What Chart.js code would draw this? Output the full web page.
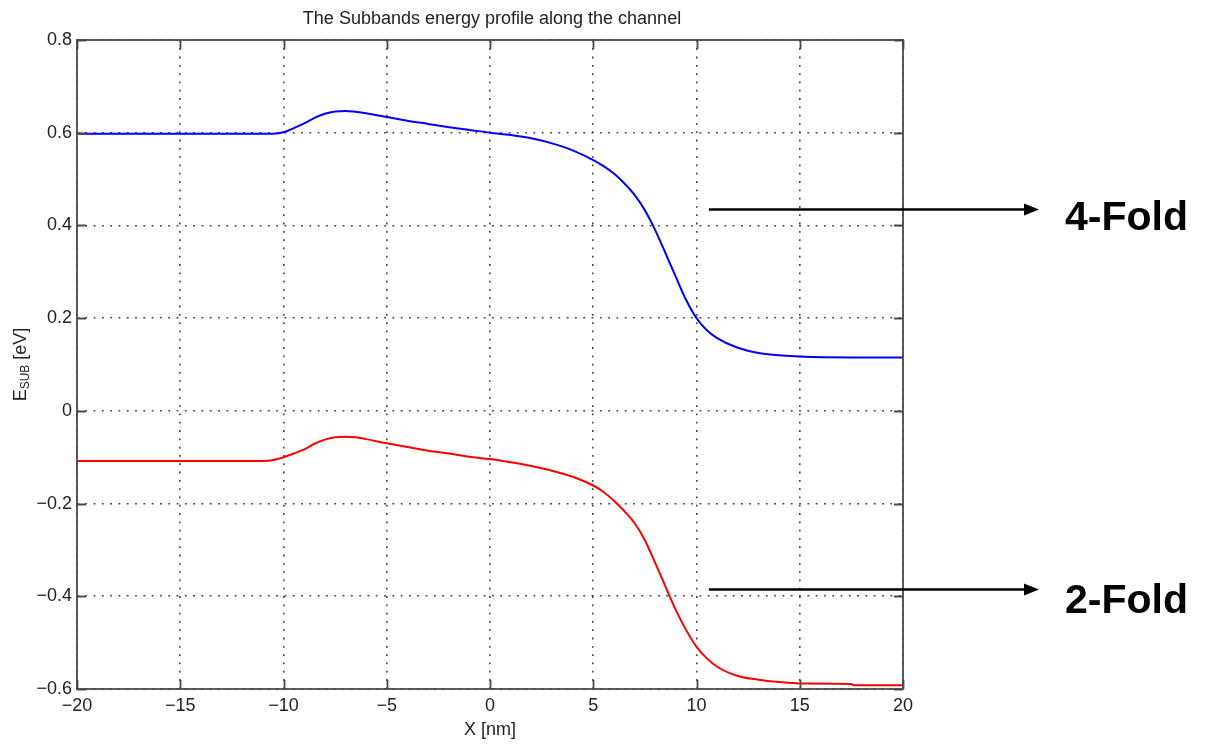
<!DOCTYPE html>
<html>
<head>
<meta charset="utf-8">
<script src="https://cdn.jsdelivr.net/npm/chart.js@4.4.1/dist/chart.umd.min.js"></script>
<style>
  html, body { margin: 0; padding: 0; background: #ffffff; }
  #wrap { width: 1207px; height: 747px; position: relative; }
</style>
</head>
<body>
<div id="wrap"><canvas id="c" width="1207" height="747"></canvas></div>
<script>
// Subband energy profile along the channel (position in nm, energy in eV)
const chartTitle = 'The Subbands energy profile along the channel';
const xAxisLabel = 'X [nm]';
const bandNames = ['4-Fold', '2-Fold'];

const xNm = [-20, -15, -11, -10.5, -10, -9.5, -9, -8.5, -8, -7.5, -7, -6.5, -6, -5, -4, -3, -2, -1,
             0, 1, 2, 3, 4, 5, 5.5, 6, 6.5, 7, 7.5, 8, 8.5, 9, 9.5, 10, 10.5, 11, 12, 13, 14, 15,
             17.5, 17.6, 20];

const fourFold = [0.598, 0.598, 0.598, 0.598, 0.601, 0.610, 0.620, 0.632, 0.641, 0.646, 0.647, 0.645,
                  0.642, 0.634, 0.626, 0.619, 0.612, 0.606, 0.600, 0.595, 0.588, 0.577, 0.562, 0.541,
                  0.528, 0.512, 0.491, 0.466, 0.433, 0.390, 0.340, 0.289, 0.239, 0.200, 0.174, 0.157,
                  0.136, 0.125, 0.120, 0.117, 0.115, 0.115, 0.115];

const twoFold = [-0.108, -0.108, -0.108, -0.106, -0.100, -0.092, -0.083, -0.071, -0.062, -0.057, -0.056,
                 -0.057, -0.061, -0.070, -0.078, -0.086, -0.092, -0.099, -0.104, -0.111, -0.119, -0.129,
                 -0.142, -0.161, -0.175, -0.194, -0.216, -0.242, -0.279, -0.328, -0.379, -0.430, -0.473,
                 -0.509, -0.534, -0.552, -0.572, -0.580, -0.585, -0.588, -0.589, -0.592, -0.592];

const FONT = '"Liberation Sans", Arial, Helvetica, sans-serif';
const MINUS = '\u2212';

function toPoints(xs, ys) {
  return xs.map((x, i) => ({ x: x, y: ys[i] }));
}

function fmtX(v) {
  return v < 0 ? MINUS + Math.abs(v) : String(v);
}
function fmtY(v) {
  const r = Math.round(v * 10) / 10;
  if (r === 0) return '0';
  const s = Math.abs(r).toFixed(1);
  return r < 0 ? MINUS + s : s;
}

// Frame, inward ticks on all sides, titles and band annotations
const decorations = {
  id: 'decorations',
  afterDraw(chart) {
    const { ctx, chartArea: a } = chart;
    const xs = chart.scales.x, ys = chart.scales.y;
    const tickLen = 9;

    ctx.save();
    // axes box
    ctx.strokeStyle = '#4a4a4a';
    ctx.lineWidth = 1.8;
    ctx.strokeRect(a.left, a.top, a.right - a.left, a.bottom - a.top);

    // inward ticks
    ctx.beginPath();
    xs.ticks.forEach(t => {
      const px = Math.round(xs.getPixelForValue(t.value)) + 0.5;
      ctx.moveTo(px, a.bottom); ctx.lineTo(px, a.bottom - tickLen);
      ctx.moveTo(px, a.top); ctx.lineTo(px, a.top + tickLen);
    });
    ys.ticks.forEach(t => {
      const py = Math.round(ys.getPixelForValue(t.value)) + 0.5;
      ctx.moveTo(a.left, py); ctx.lineTo(a.left + tickLen, py);
      ctx.moveTo(a.right, py); ctx.lineTo(a.right - tickLen, py);
    });
    ctx.stroke();

    // title
    ctx.fillStyle = '#222';
    ctx.font = '18px ' + FONT;
    ctx.textAlign = 'center';
    ctx.textBaseline = 'alphabetic';
    ctx.fillText(chartTitle, (a.left + a.right) / 2 + 2, 24);

    // x axis label
    ctx.fillText(xAxisLabel, (a.left + a.right) / 2, 735);

    // y axis label: E_SUB [eV], rotated
    ctx.save();
    const main = '18px ' + FONT, sub = '12px ' + FONT;
    ctx.font = main; const wE = ctx.measureText('E').width;
    ctx.font = sub; const wS = ctx.measureText('SUB').width;
    ctx.font = main; const wR = ctx.measureText(' [eV]').width;
    const total = wE + wS + wR;
    ctx.translate(26, (a.top + a.bottom) / 2);
    ctx.rotate(-Math.PI / 2);
    ctx.textAlign = 'left';
    let cx = -total / 2;
    ctx.font = main; ctx.fillText('E', cx, 0); cx += wE;
    ctx.font = sub; ctx.fillText('SUB', cx, 3); cx += wS;
    ctx.font = main; ctx.fillText(' [eV]', cx, 0);
    ctx.restore();

    // band annotations: arrow + bold name
    const anchors = [
      { y: ys.getPixelForValue(0.435), base: 230 },
      { y: ys.getPixelForValue(-0.384), base: 613 }
    ];
    const x0 = xs.getPixelForValue(10.6);
    const tip = a.right + 136;
    anchors.forEach((an, i) => {
      const y = Math.round(an.y) + 0.5;
      ctx.strokeStyle = '#000';
      ctx.lineWidth = 2.6;
      ctx.beginPath();
      ctx.moveTo(x0, y); ctx.lineTo(tip - 12, y);
      ctx.stroke();
      ctx.fillStyle = '#000';
      ctx.beginPath();
      ctx.moveTo(tip, y); ctx.lineTo(tip - 15, y - 6); ctx.lineTo(tip - 15, y + 6);
      ctx.closePath(); ctx.fill();
      ctx.font = 'bold 41px ' + FONT;
      ctx.textAlign = 'left';
      ctx.fillText(bandNames[i], 1065, an.base);
    });
    ctx.restore();
  }
};

new Chart(document.getElementById('c'), {
  type: 'line',
  data: {
    datasets: [
      { label: bandNames[0], data: toPoints(xNm, fourFold), borderColor: '#0000ff', borderWidth: 2,
        pointRadius: 0, cubicInterpolationMode: 'monotone', fill: false },
      { label: bandNames[1], data: toPoints(xNm, twoFold), borderColor: '#ff0000', borderWidth: 2,
        pointRadius: 0, cubicInterpolationMode: 'monotone', fill: false }
    ]
  },
  options: {
    responsive: false,
    animation: false,
    devicePixelRatio: 1,
    layout: { padding: { left: 0, top: 40, right: 304, bottom: 0 } },
    plugins: { legend: { display: false }, title: { display: false }, tooltip: { enabled: false } },
    scales: {
      x: {
        type: 'linear', min: -20, max: 20,
        afterFit(s) { s.height = 58; },
        grid: { color: '#444', lineWidth: 1.6, drawTicks: false },
        border: { display: false, dash: [1.8, 6.5] },
        ticks: { stepSize: 5, padding: 6, color: '#222', font: { family: FONT, size: 18 },
                 maxRotation: 0, callback: v => fmtX(v) }
      },
      y: {
        type: 'linear', min: -0.6, max: 0.8,
        afterFit(s) { s.width = 77; },
        grid: { color: '#444', lineWidth: 1.6, drawTicks: false },
        border: { display: false, dash: [1.8, 6.5] },
        ticks: { stepSize: 0.2, padding: 5, color: '#222', font: { family: FONT, size: 18 },
                 callback: v => fmtY(v) }
      }
    }
  },
  plugins: [decorations]
});
</script>
</body>
</html>
